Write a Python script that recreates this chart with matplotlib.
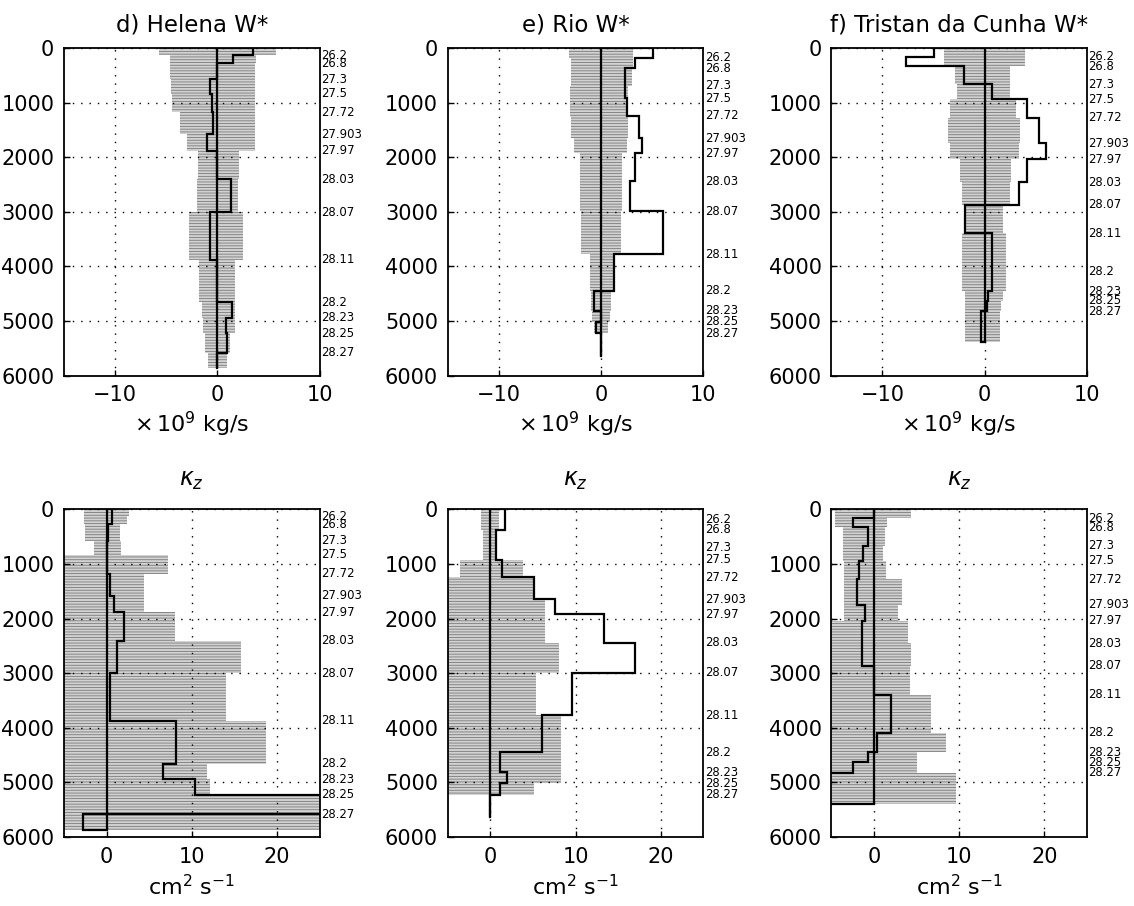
import numpy as np
import matplotlib
matplotlib.use('Agg')
import matplotlib.pyplot as plt
from matplotlib.transforms import blended_transform_factory

plt.rcParams['font.family'] = ['DejaVu Sans']
plt.rcParams['mathtext.fontset'] = 'dejavusans'
plt.rcParams['hatch.linewidth'] = 0.6

# ---------------- data ----------------
isopycnals = ['26.2', '26.8', '27.3', '27.5', '27.72', '27.903', '27.97',
              '28.03', '28.07', '28.11', '28.2', '28.23', '28.25', '28.27']

stations = ['Helena', 'Rio', 'Tristan da Cunha']
panel_letters = ['d', 'e', 'f']

# interface depths (m) for each station
helena_depth = [130, 275, 570, 835, 1180, 1580, 1885, 2405, 3005, 3875, 4655, 4945, 5225, 5580]
rio_depth = [180, 375, 690, 920, 1240, 1650, 1925, 2440, 2990, 3775, 4450, 4815, 5015, 5225]
tristan_depth = [160, 330, 668, 940, 1275, 1745, 2040, 2455, 2868, 3392, 4094, 4452, 4627, 4820]
bottom_depth = [5870, 5640, 5390]

# W* (x 1e9 kg/s) best estimate per layer
helena_w = [3.5, 1.5, 0.0, -0.7, -0.5, -0.4, -1.0, 0.0, 1.3, -0.7, 0.0, 1.4, 0.8, 0.9, 0.0]
rio_w = [5.1, 3.35, 2.3, 2.3, 2.5, 3.75, 4.0, 3.35, 2.8, 6.1, 1.3, -0.65, 0.0, -0.5, 0.0]
tristan_w = [-5.0, -7.66, -2.0, 0.7, 4.15, 5.3, 5.95, 4.15, 3.3, -1.9, 0.7, 0.7, 0.3, 0.2, -0.35]

# W* uncertainty range per layer
helena_w_lo = [-5.7, -4.6, -4.6, -4.5, -4.4, -3.7, -3.0, -1.9, -2.0, -2.8, -1.8, -1.5, -1.4, -1.2, -0.9]
helena_w_hi = [5.7, 3.8, 3.7, 3.7, 3.7, 3.7, 3.7, 2.1, 2.0, 2.5, 1.7, 1.7, 1.7, 1.2, 0.9]
rio_w_lo = [-3.15, -2.9, -2.9, -3.0, -3.0, -2.9, -2.6, -2.1, -2.1, -2.0, -1.1, -1.0, -0.9, -0.65, 0.0]
rio_w_hi = [3.1, 3.1, 3.0, 2.6, 2.6, 2.6, 2.5, 2.05, 2.05, 1.95, 1.3, 1.0, 0.85, 0.65, 0.0]
tristan_w_lo = [-4.0, -4.0, -2.9, -2.7, -3.4, -3.6, -3.4, -2.4, -2.2, -1.9, -2.2, -2.2, -1.9, -1.9, -1.9]
tristan_w_hi = [3.9, 3.9, 2.5, 2.5, 3.1, 3.4, 3.3, 2.6, 2.5, 1.75, 2.1, 2.1, 1.8, 1.6, 1.5]

# kappa_z (cm^2/s) best estimate per layer
helena_k = [0.6, 0.6, 0.15, 0.1, 0.1, 0.4, 0.85, 2.0, 1.2, 0.45, 8.2, 6.6, 10.4, 30.0, -2.8]
rio_k = [1.7, 1.7, 0.7, 0.7, 1.35, 5.1, 7.55, 13.4, 17.0, 9.6, 6.05, 1.1, 2.0, 1.1, 0.0]
tristan_k = [0.0, -2.5, -0.65, -1.25, -1.7, -2.0, -1.05, -1.45, -1.45, 0.0, 2.05, 0.4, -0.65, -2.4, -6.0]

# kappa_z uncertainty range per layer
helena_k_lo = [-2.6, -2.6, -2.5, -1.5, -6.0, -6.0, -6.0, -6.0, -6.0, -6.0, -6.0, -6.0, -6.0, -6.0, -6.0]
helena_k_hi = [2.6, 2.4, 1.6, 1.7, 7.2, 4.4, 4.4, 8.05, 15.8, 14.0, 18.7, 11.8, 12.1, 30.0, 30.0]
rio_k_lo = [-1.05, -1.05, -0.9, -0.9, -3.6, -6.0, -6.0, -6.0, -6.0, -6.0, -6.0, -6.0, -6.0, -6.0, 0.0]
rio_k_hi = [1.0, 1.0, 0.5, 0.5, 3.8, 5.0, 6.45, 6.45, 8.1, 5.4, 8.3, 8.3, 8.3, 5.1, 0.0]
tristan_k_lo = [-4.6, -4.6, -3.6, -3.6, -3.5, -3.5, -3.5, -6.0, -6.0, -6.0, -6.0, -6.0, -6.0, -6.0, -6.0]
tristan_k_hi = [4.4, 1.5, 1.3, 1.1, 1.4, 3.25, 2.85, 4.0, 4.4, 4.2, 6.75, 8.5, 5.0, 5.0, 9.65]

depths = [helena_depth, rio_depth, tristan_depth]
w_best = [helena_w, rio_w, tristan_w]
w_lo = [helena_w_lo, rio_w_lo, tristan_w_lo]
w_hi = [helena_w_hi, rio_w_hi, tristan_w_hi]
k_best = [helena_k, rio_k, tristan_k]
k_lo = [helena_k_lo, rio_k_lo, tristan_k_lo]
k_hi = [helena_k_hi, rio_k_hi, tristan_k_hi]

w_xlim = (-15, 10)
w_xticks = [-10, 0, 10]
k_xlim = (-5, 25)
k_xticks = [0, 10, 20]
yticks = [0, 1000, 2000, 3000, 4000, 5000, 6000]

# ---------------- figure ----------------
fig, axes = plt.subplots(2, 3, figsize=(11.34, 9.06), dpi=100,
                         gridspec_kw=dict(left=0.0564, right=0.9586, top=0.947,
                                          bottom=0.0762, wspace=0.5, hspace=0.4085))

grid_style = dict(color='black', linestyle=(0, (1, 5)), linewidth=1.0)


def draw_panel(ax, iface, zbot, best, lo, hi, xlim, xticks):
    edges = np.concatenate([[0.0], np.asarray(iface, float), [zbot]])
    tops = edges[:-1]
    thick = np.diff(edges)
    lo = np.asarray(lo, float)
    hi = np.asarray(hi, float)
    best = np.asarray(best, float)
    # stippled uncertainty range
    ax.barh(tops, hi - lo, height=thick, left=lo, align='edge',
            facecolor='#d2d2d2', edgecolor='#7a7a7a', linewidth=0,
            hatch='------', zorder=1)
    # best estimate staircase
    ys = np.ravel(np.column_stack([edges[:-1], edges[1:]]))
    xs = np.repeat(best, 2)
    xs = np.concatenate([[0.0], xs, [0.0]])
    ys = np.concatenate([[0.0], ys, [zbot]])
    ax.plot(xs, ys, color='black', linewidth=1.6, zorder=3,
            solid_joinstyle='miter')
    ax.vlines(0, 0, zbot, color='black', linewidth=1.6, zorder=3)

    ax.set_xlim(*xlim)
    ax.set_ylim(6000, 0)
    ax.set_xticks(xticks)
    ax.set_yticks(yticks)
    ax.grid(True, **grid_style)
    ax.set_axisbelow(False)
    for g in ax.get_xgridlines() + ax.get_ygridlines():
        g.set_zorder(2)
    ax.tick_params(direction='in', length=4, width=1, labelsize=15, pad=7)
    for s in ax.spines.values():
        s.set_linewidth(1.3)
        s.set_zorder(4)

    tr = blended_transform_factory(ax.transAxes, ax.transData)
    for name, z in zip(isopycnals, iface):
        ax.text(1.006, z, name, transform=tr, ha='left', va='center',
                fontsize=8.4, clip_on=False)


for j in range(3):
    ax = axes[0, j]
    draw_panel(ax, depths[j], bottom_depth[j], w_best[j], w_lo[j], w_hi[j],
               w_xlim, w_xticks)
    ax.set_title(f'{panel_letters[j]}) {stations[j]} W*', fontsize=16.5, pad=12)
    ax.set_xlabel(r'$\times\,10^9$ kg/s', fontsize=16, labelpad=3)

    ax = axes[1, j]
    draw_panel(ax, depths[j], bottom_depth[j], k_best[j], k_lo[j], k_hi[j],
               k_xlim, k_xticks)
    ax.set_title(r'$\kappa_z$', fontsize=17, pad=17)
    ax.set_xlabel(r'cm$^2$ s$^{-1}$', fontsize=16, labelpad=5)

fig.savefig('out.png', dpi=100)
